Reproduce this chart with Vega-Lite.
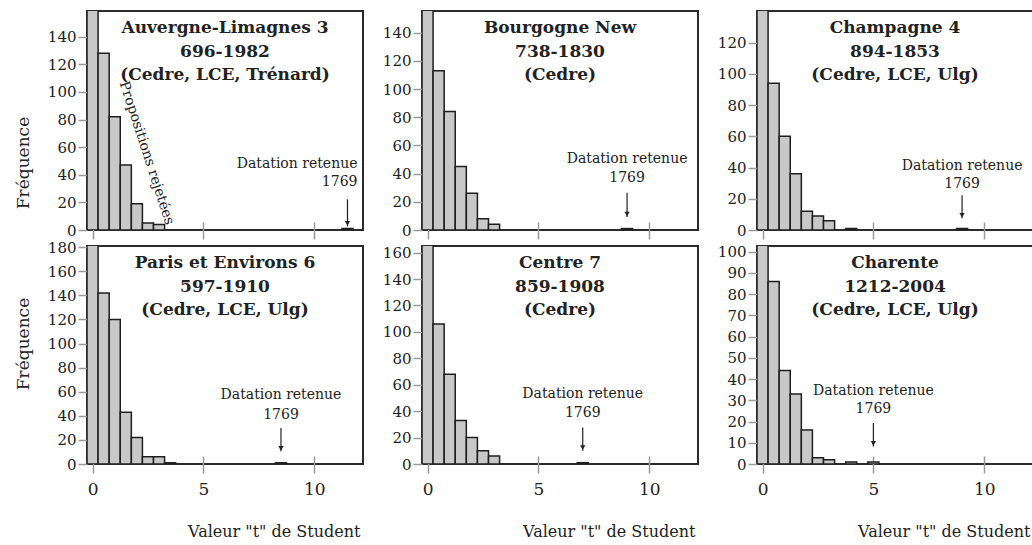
{
  "$schema": "https://vega.github.io/schema/vega-lite/v6.json",
  "padding": {"left": 13, "top": 10, "right": 0, "bottom": 0},
  "background": "white",
  "columns": 3,
  "bounds": "flush",
  "spacing": {"row": 16, "column": 59},
  "config": {
    "font": "DejaVu Serif",
    "view": {"stroke": "#2b2b2b", "strokeWidth": 2},
    "axis": {"domain": false, "grid": false, "labelOverlap": false, "tickColor": "#9a9a9a", "tickWidth": 1.5, "labelColor": "#222222", "titleColor": "#222222", "labelFont": "DejaVu Serif", "titleFont": "DejaVu Serif", "titleFontWeight": "normal"},
    "axisX": {"tickSize": 17, "offset": -8, "labelFontSize": 17, "labelPadding": 8, "titleFontSize": 16, "titlePadding": 26, "titleAnchor": "end", "titleAlign": "right", "titleX": 273, "labelFlush": false},
    "axisY": {"tickSize": 9, "labelFontSize": 15, "labelPadding": 2, "titleFontSize": 17, "titlePadding": 15},
    "bar": {"fill": "#c8c8c8", "stroke": "#1e1e1e", "strokeWidth": 1.5},
    "rule": {"color": "#222222", "strokeWidth": 1.2},
    "point": {"shape": "triangle-down", "filled": true, "size": 28, "color": "#222222", "opacity": 1}
  },
  "datasets": {
    "p1": [
      {"x": -0.25, "x2": 0.25, "y": 175}, {"x": 0.25, "x2": 0.75, "y": 128}, {"x": 0.75, "x2": 1.25, "y": 82},
      {"x": 1.25, "x2": 1.75, "y": 47}, {"x": 1.75, "x2": 2.25, "y": 19}, {"x": 2.25, "x2": 2.75, "y": 5},
      {"x": 2.75, "x2": 3.25, "y": 4}, {"x": 11.25, "x2": 11.75, "y": 1}
    ],
    "p2": [
      {"x": -0.25, "x2": 0.25, "y": 170}, {"x": 0.25, "x2": 0.75, "y": 113}, {"x": 0.75, "x2": 1.25, "y": 84},
      {"x": 1.25, "x2": 1.75, "y": 45}, {"x": 1.75, "x2": 2.25, "y": 26}, {"x": 2.25, "x2": 2.75, "y": 8},
      {"x": 2.75, "x2": 3.25, "y": 4}, {"x": 8.75, "x2": 9.25, "y": 1}
    ],
    "p3": [
      {"x": -0.25, "x2": 0.25, "y": 155}, {"x": 0.25, "x2": 0.75, "y": 94}, {"x": 0.75, "x2": 1.25, "y": 60},
      {"x": 1.25, "x2": 1.75, "y": 36}, {"x": 1.75, "x2": 2.25, "y": 12}, {"x": 2.25, "x2": 2.75, "y": 9},
      {"x": 2.75, "x2": 3.25, "y": 6}, {"x": 3.75, "x2": 4.25, "y": 1}, {"x": 8.75, "x2": 9.25, "y": 1}
    ],
    "p4": [
      {"x": -0.25, "x2": 0.25, "y": 200}, {"x": 0.25, "x2": 0.75, "y": 142}, {"x": 0.75, "x2": 1.25, "y": 120},
      {"x": 1.25, "x2": 1.75, "y": 43}, {"x": 1.75, "x2": 2.25, "y": 22}, {"x": 2.25, "x2": 2.75, "y": 6},
      {"x": 2.75, "x2": 3.25, "y": 6}, {"x": 3.25, "x2": 3.75, "y": 1}, {"x": 8.25, "x2": 8.75, "y": 1}
    ],
    "p5": [
      {"x": -0.25, "x2": 0.25, "y": 180}, {"x": 0.25, "x2": 0.75, "y": 106}, {"x": 0.75, "x2": 1.25, "y": 68},
      {"x": 1.25, "x2": 1.75, "y": 33}, {"x": 1.75, "x2": 2.25, "y": 20}, {"x": 2.25, "x2": 2.75, "y": 10},
      {"x": 2.75, "x2": 3.25, "y": 6}, {"x": 6.75, "x2": 7.25, "y": 1}
    ],
    "p6": [
      {"x": -0.25, "x2": 0.25, "y": 115}, {"x": 0.25, "x2": 0.75, "y": 86}, {"x": 0.75, "x2": 1.25, "y": 44},
      {"x": 1.25, "x2": 1.75, "y": 33}, {"x": 1.75, "x2": 2.25, "y": 16}, {"x": 2.25, "x2": 2.75, "y": 3},
      {"x": 2.75, "x2": 3.25, "y": 2}, {"x": 3.75, "x2": 4.25, "y": 1}, {"x": 4.75, "x2": 5.25, "y": 1}
    ]
  },
  "concat": [
    {
      "width": 276, "height": 219,
      "encoding": {
        "x": {"field": "x", "type": "quantitative", "scale": {"domain": [-0.25, 12.2], "nice": false, "zero": false}, "axis": {"values": [0, 5, 10], "labels": false, "title": null}},
        "y": {"field": "y", "type": "quantitative", "scale": {"domain": [0, 158.6], "nice": false}, "axis": {"values": [0, 20, 40, 60, 80, 100, 120, 140], "title": "Fréquence", "titleY": 151.5}}
      },
      "layer": [
        {"data": {"name": "p1"}, "mark": {"type": "bar", "clip": true}, "encoding": {"x2": {"field": "x2"}, "y2": {"datum": 0}}},
        {
          "data": {"values": [{"x": 11.95, "y": 44.7, "label": "Datation retenue"}, {"x": 11.95, "y": 31.9, "label": "1769"}]},
          "mark": {"type": "text", "align": "right", "baseline": "alphabetic", "fontSize": 14, "color": "#222222"},
          "encoding": {"text": {"field": "label"}}
        },
        {"data": {"values": [{"x": 11.5, "y": 22.2, "y2": 2.6}]}, "mark": {"type": "rule"}, "encoding": {"y2": {"field": "y2"}}},
        {"data": {"values": [{"x": 11.5, "y": 2.6}]}, "mark": {"type": "point", "yOffset": -3}},
        {
          "data": {"values": [{"x": 1.22, "y": 106.4, "label": "Propositions rejetées"}]},
          "mark": {"type": "text", "align": "left", "baseline": "alphabetic", "angle": 72, "fontSize": 14, "color": "#222222"},
          "encoding": {"text": {"field": "label"}}
        },
        {
          "data": {"values": [{"x": 5.975, "y": 158.6}]},
          "mark": {"type": "text", "align": "center", "baseline": "top", "dy": 9, "fontSize": 17, "fontWeight": "bold", "lineHeight": 23.5, "color": "#222222"},
          "encoding": {"text": {"value": ["Auvergne-Limagnes 3", "696-1982", "(Cedre, LCE, Trénard)"]}}
        }
      ]
    },
    {
      "width": 276, "height": 219,
      "encoding": {
        "x": {"field": "x", "type": "quantitative", "scale": {"domain": [-0.25, 12.2], "nice": false, "zero": false}, "axis": {"values": [0, 5, 10], "labels": false, "title": null}},
        "y": {"field": "y", "type": "quantitative", "scale": {"domain": [0, 155.4], "nice": false}, "axis": {"values": [0, 20, 40, 60, 80, 100, 120, 140], "title": null}}
      },
      "layer": [
        {"data": {"name": "p2"}, "mark": {"type": "bar", "clip": true}, "encoding": {"x2": {"field": "x2"}, "y2": {"datum": 0}}},
        {
          "data": {"values": [{"x": 9, "y": 47.3, "label": "Datation retenue"}, {"x": 9, "y": 34.3, "label": "1769"}]},
          "mark": {"type": "text", "align": "center", "baseline": "alphabetic", "fontSize": 14, "color": "#222222"},
          "encoding": {"text": {"field": "label"}}
        },
        {"data": {"values": [{"x": 9, "y": 26.5, "y2": 9.2}]}, "mark": {"type": "rule"}, "encoding": {"y2": {"field": "y2"}}},
        {"data": {"values": [{"x": 9, "y": 9.2}]}, "mark": {"type": "point", "yOffset": -3}},
        {
          "data": {"values": [{"x": 5.975, "y": 155.4}]},
          "mark": {"type": "text", "align": "center", "baseline": "top", "dy": 9, "fontSize": 17, "fontWeight": "bold", "lineHeight": 23.5, "color": "#222222"},
          "encoding": {"text": {"value": ["Bourgogne New", "738-1830", "(Cedre)"]}}
        }
      ]
    },
    {
      "width": 276, "height": 219,
      "encoding": {
        "x": {"field": "x", "type": "quantitative", "scale": {"domain": [-0.25, 12.2], "nice": false, "zero": false}, "axis": {"values": [0, 5, 10], "labels": false, "title": null}},
        "y": {"field": "y", "type": "quantitative", "scale": {"domain": [0, 140.3], "nice": false}, "axis": {"values": [0, 20, 40, 60, 80, 100, 120], "title": null}}
      },
      "layer": [
        {"data": {"name": "p3"}, "mark": {"type": "bar", "clip": true}, "encoding": {"x2": {"field": "x2"}, "y2": {"datum": 0}}},
        {
          "data": {"values": [{"x": 9, "y": 38.4, "label": "Datation retenue"}, {"x": 9, "y": 27.1, "label": "1769"}]},
          "mark": {"type": "text", "align": "center", "baseline": "alphabetic", "fontSize": 14, "color": "#222222"},
          "encoding": {"text": {"field": "label"}}
        },
        {"data": {"values": [{"x": 9, "y": 22.2, "y2": 7.5}]}, "mark": {"type": "rule"}, "encoding": {"y2": {"field": "y2"}}},
        {"data": {"values": [{"x": 9, "y": 7.5}]}, "mark": {"type": "point", "yOffset": -3}},
        {
          "data": {"values": [{"x": 5.975, "y": 140.3}]},
          "mark": {"type": "text", "align": "center", "baseline": "top", "dy": 9, "fontSize": 17, "fontWeight": "bold", "lineHeight": 23.5, "color": "#222222"},
          "encoding": {"text": {"value": ["Champagne 4", "894-1853", "(Cedre, LCE, Ulg)"]}}
        }
      ]
    },
    {
      "width": 276, "height": 218,
      "encoding": {
        "x": {"field": "x", "type": "quantitative", "scale": {"domain": [-0.25, 12.2], "nice": false, "zero": false}, "axis": {"values": [0, 5, 10], "title": "Valeur \"t\" de Student"}},
        "y": {"field": "y", "type": "quantitative", "scale": {"domain": [0, 181], "nice": false}, "axis": {"values": [0, 20, 40, 60, 80, 100, 120, 140, 160, 180], "title": "Fréquence", "titleY": 97.5}}
      },
      "layer": [
        {"data": {"name": "p4"}, "mark": {"type": "bar", "clip": true}, "encoding": {"x2": {"field": "x2"}, "y2": {"datum": 0}}},
        {
          "data": {"values": [{"x": 8.5, "y": 54, "label": "Datation retenue"}, {"x": 8.5, "y": 37.4, "label": "1769"}]},
          "mark": {"type": "text", "align": "center", "baseline": "alphabetic", "fontSize": 14, "color": "#222222"},
          "encoding": {"text": {"field": "label"}}
        },
        {"data": {"values": [{"x": 8.5, "y": 29.9, "y2": 10.5}]}, "mark": {"type": "rule"}, "encoding": {"y2": {"field": "y2"}}},
        {"data": {"values": [{"x": 8.5, "y": 10.5}]}, "mark": {"type": "point", "yOffset": -3}},
        {
          "data": {"values": [{"x": 5.975, "y": 181}]},
          "mark": {"type": "text", "align": "center", "baseline": "top", "dy": 9, "fontSize": 17, "fontWeight": "bold", "lineHeight": 23.5, "color": "#222222"},
          "encoding": {"text": {"value": ["Paris et Environs 6", "597-1910", "(Cedre, LCE, Ulg)"]}}
        }
      ]
    },
    {
      "width": 276, "height": 218,
      "encoding": {
        "x": {"field": "x", "type": "quantitative", "scale": {"domain": [-0.25, 12.2], "nice": false, "zero": false}, "axis": {"values": [0, 5, 10], "title": "Valeur \"t\" de Student"}},
        "y": {"field": "y", "type": "quantitative", "scale": {"domain": [0, 165], "nice": false}, "axis": {"values": [0, 20, 40, 60, 80, 100, 120, 140, 160], "title": null}}
      },
      "layer": [
        {"data": {"name": "p5"}, "mark": {"type": "bar", "clip": true}, "encoding": {"x2": {"field": "x2"}, "y2": {"datum": 0}}},
        {
          "data": {"values": [{"x": 7, "y": 50.3, "label": "Datation retenue"}, {"x": 7, "y": 35.2, "label": "1769"}]},
          "mark": {"type": "text", "align": "center", "baseline": "alphabetic", "fontSize": 14, "color": "#222222"},
          "encoding": {"text": {"field": "label"}}
        },
        {"data": {"values": [{"x": 7, "y": 27.7, "y2": 10.1}]}, "mark": {"type": "rule"}, "encoding": {"y2": {"field": "y2"}}},
        {"data": {"values": [{"x": 7, "y": 10.1}]}, "mark": {"type": "point", "yOffset": -3}},
        {
          "data": {"values": [{"x": 5.975, "y": 165}]},
          "mark": {"type": "text", "align": "center", "baseline": "top", "dy": 9, "fontSize": 17, "fontWeight": "bold", "lineHeight": 23.5, "color": "#222222"},
          "encoding": {"text": {"value": ["Centre 7", "859-1908", "(Cedre)"]}}
        }
      ]
    },
    {
      "width": 276, "height": 218,
      "encoding": {
        "x": {"field": "x", "type": "quantitative", "scale": {"domain": [-0.25, 12.2], "nice": false, "zero": false}, "axis": {"values": [0, 5, 10], "title": "Valeur \"t\" de Student"}},
        "y": {"field": "y", "type": "quantitative", "scale": {"domain": [0, 102.7], "nice": false}, "axis": {"values": [0, 10, 20, 30, 40, 50, 60, 70, 80, 90, 100], "title": null}}
      },
      "layer": [
        {"data": {"name": "p6"}, "mark": {"type": "bar", "clip": true}, "encoding": {"x2": {"field": "x2"}, "y2": {"datum": 0}}},
        {
          "data": {"values": [{"x": 5, "y": 32.7, "label": "Datation retenue"}, {"x": 5, "y": 24.1, "label": "1769"}]},
          "mark": {"type": "text", "align": "center", "baseline": "alphabetic", "fontSize": 14, "color": "#222222"},
          "encoding": {"text": {"field": "label"}}
        },
        {"data": {"values": [{"x": 5, "y": 19.3, "y2": 8.3}]}, "mark": {"type": "rule"}, "encoding": {"y2": {"field": "y2"}}},
        {"data": {"values": [{"x": 5, "y": 8.3}]}, "mark": {"type": "point", "yOffset": -3}},
        {
          "data": {"values": [{"x": 5.975, "y": 102.7}]},
          "mark": {"type": "text", "align": "center", "baseline": "top", "dy": 9, "fontSize": 17, "fontWeight": "bold", "lineHeight": 23.5, "color": "#222222"},
          "encoding": {"text": {"value": ["Charente", "1212-2004", "(Cedre, LCE, Ulg)"]}}
        }
      ]
    }
  ]
}
